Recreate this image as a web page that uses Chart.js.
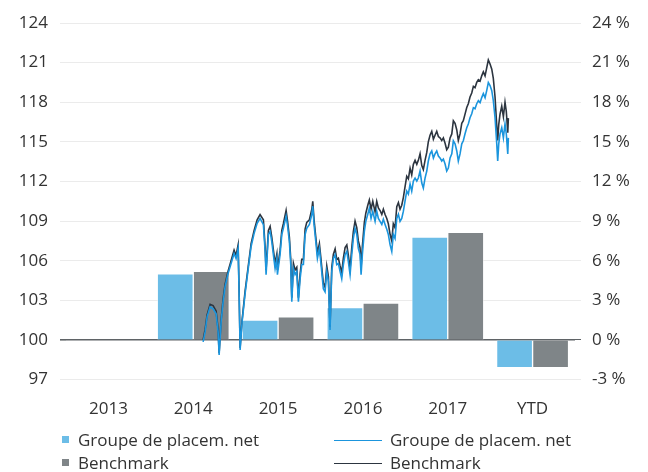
<!DOCTYPE html>
<html>
<head>
<meta charset="utf-8">
<script src="https://cdn.jsdelivr.net/npm/chart.js@4"></script>
<style>
  html, body { margin: 0; padding: 0; background: #fff; }
  #wrap { position: relative; width: 648px; height: 472px; }
  #legend { position: absolute; left: 0; top: 0; width: 648px; height: 472px; pointer-events: none;
            font-family: "Open Sans", sans-serif; font-size: 17px; color: #333; }
  .item { position: absolute; white-space: nowrap; line-height: 20px; }
  .swatch { position: absolute; }
</style>
</head>
<body>
<div id="wrap">
  <canvas id="chart" width="648" height="472"></canvas>
  <div id="legend"></div>
</div>
<script>
// Annual returns (%) as bars, daily index (start = 100) as lines.

const CATEGORIES = ["2013", "2014", "2015", "2016", "2017", "YTD"];
const GROUP_RETURNS = [null, 5.0, 1.5, 2.45, 7.8, -2.1];
const BENCH_RETURNS = [null, 5.2, 1.75, 2.8, 8.15, -2.1];

const LEFT_TICKS = { min: 97, max: 124, step: 3 };
const RIGHT_TICKS = { min: -3, max: 24, step: 3 };

// time axis in fractional years
const LINE_YEARS = [
  2014.605, 2014.628, 2014.651, 2014.686, 2014.721, 2014.756, 2014.779, 2014.791, 2014.814, 2014.837,
  2014.860, 2014.895, 2014.930, 2014.965, 2014.988, 2015.012, 2015.023, 2015.035, 2015.058, 2015.093,
  2015.128, 2015.163, 2015.198, 2015.233, 2015.267, 2015.306, 2015.326, 2015.337, 2015.364, 2015.384,
  2015.403, 2015.422, 2015.442, 2015.462, 2015.469, 2015.500, 2015.520, 2015.538, 2015.570, 2015.585,
  2015.608, 2015.624, 2015.636, 2015.655, 2015.674, 2015.694, 2015.713, 2015.733, 2015.752, 2015.771,
  2015.791, 2015.810, 2015.841, 2015.869, 2015.880, 2015.895, 2015.915, 2015.934, 2015.957, 2015.973,
  2015.992, 2016.003, 2016.023, 2016.043, 2016.062, 2016.081, 2016.101, 2016.120, 2016.140, 2016.159,
  2016.178, 2016.198, 2016.217, 2016.236, 2016.256, 2016.276, 2016.294, 2016.314, 2016.334, 2016.352,
  2016.372, 2016.392, 2016.410, 2016.430, 2016.442, 2016.457, 2016.480, 2016.497, 2016.520, 2016.538,
  2016.558, 2016.578, 2016.605, 2016.624, 2016.643, 2016.663, 2016.683, 2016.701, 2016.721, 2016.741,
  2016.759, 2016.779, 2016.799, 2016.817, 2016.837, 2016.857, 2016.876, 2016.895, 2016.915, 2016.934,
  2016.953, 2016.973, 2016.992, 2017.012, 2017.031, 2017.050, 2017.070, 2017.090, 2017.108, 2017.128,
  2017.148, 2017.166, 2017.186, 2017.206, 2017.224, 2017.244, 2017.264, 2017.283, 2017.302, 2017.322,
  2017.341, 2017.360, 2017.380, 2017.399, 2017.419, 2017.438, 2017.457, 2017.477, 2017.497, 2017.515,
  2017.535, 2017.555, 2017.573, 2017.593, 2017.613, 2017.631, 2017.651, 2017.671, 2017.690, 2017.709,
  2017.729, 2017.748, 2017.767, 2017.787, 2017.806, 2017.826, 2017.845, 2017.864, 2017.884, 2017.903,
  2017.922, 2017.942, 2017.962, 2017.980, 2018.000, 2018.020, 2018.031, 2018.043, 2018.058, 2018.078,
  2018.097, 2018.116, 2018.131, 2018.148, 2018.155,
];

const GROUP_LINE = [
  99.85, 100.61, 101.75, 102.51, 102.36, 101.98, 100.61, 98.86, 101.37, 102.89,
  104.04, 105.03, 105.79, 106.55, 106.17, 106.93, 103.65, 99.24, 101.37, 103.50,
  105.33, 107.08, 108.07, 108.83, 109.21, 108.73, 106.70, 104.95, 107.99, 108.22,
  107.46, 106.47, 105.41, 106.17, 104.95, 106.47, 107.99, 108.45, 109.37, 108.75,
  107.46, 105.71, 102.89, 105.41, 104.95, 105.18, 102.89, 104.64, 105.71, 105.71,
  107.99, 108.45, 108.75, 109.52, 110.13, 108.75, 107.46, 106.17, 106.93, 105.94,
  104.64, 103.88, 103.65, 105.18, 104.42, 100.76, 105.18, 106.17, 106.47, 105.71,
  105.79, 105.18, 104.64, 105.71, 106.47, 106.70, 105.94, 104.95, 106.47, 107.69,
  108.45, 107.99, 106.93, 106.47, 104.95, 106.47, 108.22, 108.98, 109.52, 109.97,
  109.21, 109.75, 108.98, 109.75, 109.21, 108.98, 108.75, 109.14, 108.75, 108.38,
  107.99, 107.23, 106.70, 107.99, 107.69, 109.21, 109.52, 108.98, 109.21, 109.75,
  110.51, 111.27, 111.04, 111.80, 111.27, 112.03, 112.26, 112.03, 112.26, 112.79,
  111.88, 111.50, 112.26, 112.79, 113.55, 114.09, 114.31, 113.78, 114.09, 114.31,
  113.93, 113.78, 113.55, 113.70, 113.32, 112.79, 113.02, 113.78, 114.09, 115.08,
  114.85, 114.31, 113.55, 114.09, 114.85, 115.08, 115.61, 116.07, 116.37, 116.83,
  117.13, 117.59, 117.51, 117.89, 118.12, 117.97, 118.35, 118.65, 118.35, 118.88,
  119.49, 119.26, 118.88, 118.12, 116.83, 114.85, 113.55, 114.85, 115.61, 116.07,
  115.30, 116.37, 115.61, 114.09, 115.30,
];

const BENCH_LINE = [
  100.0, 100.8, 101.9, 102.7, 102.6, 102.2, 100.8, 99.0, 101.5, 103.1,
  104.2, 105.2, 106.0, 106.8, 106.4, 107.2, 103.9, 99.4, 101.5, 103.7,
  105.5, 107.3, 108.3, 109.1, 109.5, 109.1, 107.0, 105.3, 108.3, 108.6,
  107.8, 106.8, 105.8, 106.5, 105.3, 106.8, 108.3, 108.8, 109.8, 109.1,
  107.8, 106.1, 103.2, 105.8, 105.3, 105.5, 103.2, 105.0, 106.1, 106.1,
  108.4, 108.9, 109.1, 109.9, 110.5, 109.1, 107.8, 106.6, 107.3, 106.3,
  105.0, 104.3, 104.0, 105.6, 104.8, 101.0, 105.5, 106.5, 106.9, 106.1,
  106.2, 105.6, 105.1, 106.2, 107.0, 107.2, 106.4, 105.4, 107.0, 108.2,
  109.0, 108.5, 107.5, 107.0, 105.5, 107.1, 108.9, 109.6, 110.2, 110.6,
  109.9, 110.5, 109.7, 110.5, 110.0, 109.8, 109.5, 109.9, 109.5, 109.2,
  108.8, 108.0, 107.5, 108.8, 108.5, 110.1, 110.4, 109.9, 110.2, 110.8,
  111.6, 112.4, 112.2, 113.0, 112.5, 113.3, 113.6, 113.3, 113.6, 114.1,
  113.2, 112.9, 113.6, 114.2, 115.0, 115.5, 115.8, 115.2, 115.5, 115.8,
  115.4, 115.3, 115.1, 115.3, 114.9, 114.4, 114.6, 115.3, 115.6, 116.6,
  116.4, 115.9, 115.1, 115.6, 116.4, 116.6, 117.1, 117.6, 117.9, 118.4,
  118.7, 119.2, 119.1, 119.5, 119.7, 119.6, 120.0, 120.3, 120.0, 120.6,
  121.2, 120.9, 120.5, 119.8, 118.4, 116.2, 115.1, 116.3, 117.1, 117.7,
  116.9, 118.0, 117.3, 115.7, 116.8,
];

const LABEL_GROUP = "Groupe de placem. net";
const LABEL_BENCH = "Benchmark";

const palette = {
  text: "#333333",
  grid: "#ebebeb",
  zero: "#5f6366",
  barGroup: "#6cbde7",
  barBench: "#7f8588",
  lineGroup: "#1b95dd",
  lineBench: "#2c3540",
};

const font = { family: "'Open Sans', sans-serif", size: 17 };

function toPoints(xs, ys) {
  return xs.map((x, i) => ({ x, y: ys[i] }));
}

function gridColor(ctx) {
  return ctx.tick && ctx.tick.value === 100 ? palette.zero : palette.grid;
}
function gridWidth(ctx) {
  return ctx.tick && ctx.tick.value === 100 ? 1.6 : 1;
}

const chart = new Chart(document.getElementById("chart"), {
  data: {
    labels: CATEGORIES,
    datasets: [
      { type: "line", label: LABEL_GROUP, data: toPoints(LINE_YEARS, GROUP_LINE), xAxisID: "xLine", yAxisID: "y",
        borderColor: palette.lineGroup, borderWidth: 1.6, pointRadius: 0, tension: 0, order: 0 },
      { type: "line", label: LABEL_BENCH, data: toPoints(LINE_YEARS, BENCH_LINE), xAxisID: "xLine", yAxisID: "y",
        borderColor: palette.lineBench, borderWidth: 1.6, pointRadius: 0, tension: 0, order: 0 },
      { type: "bar", label: LABEL_GROUP, data: GROUP_RETURNS, xAxisID: "x", yAxisID: "y2",
        backgroundColor: palette.barGroup, borderColor: "rgba(255,255,255,0.45)", borderWidth: 1,
        barThickness: 36, order: 1 },
      { type: "bar", label: LABEL_BENCH, data: BENCH_RETURNS, xAxisID: "x", yAxisID: "y2",
        backgroundColor: palette.barBench, borderColor: "rgba(255,255,255,0.45)", borderWidth: 1,
        barThickness: 36, order: 1 },
    ],
  },
  options: {
    animation: false,
    responsive: false,
    events: [],
    layout: { padding: { top: 23, left: 0, right: 0, bottom: 42 } },
    scales: {
      x: {
        type: "category",
        grid: { display: false },
        border: { display: false },
        ticks: { color: palette.text, font, padding: 11 },
      },
      xLine: { type: "linear", display: false, min: 2013.01, max: 2018.93 },
      y: {
        position: "left",
        min: LEFT_TICKS.min,
        max: LEFT_TICKS.max,
        border: { display: false },
        grid: { color: gridColor, lineWidth: gridWidth, tickLength: 6 },
        ticks: { stepSize: LEFT_TICKS.step, color: palette.text, font, padding: 12 },
        afterFit: (s) => { s.width = 66; },
      },
      y2: {
        position: "right",
        min: RIGHT_TICKS.min,
        max: RIGHT_TICKS.max,
        border: { display: false },
        grid: { drawOnChartArea: false, color: (c) => (c.tick && c.tick.value === 0 ? palette.zero : palette.grid), tickLength: 6 },
        ticks: { stepSize: RIGHT_TICKS.step, color: palette.text, font, padding: 11, callback: (v) => `${v} %` },
        afterFit: (s) => { s.width = 73; },
      },
    },
    plugins: { legend: { display: false }, tooltip: { enabled: false } },
  },
});

// two-column legend below the plot, built from the datasets
function buildLegend() {
  const box = document.getElementById("legend");
  const rows = [440, 463];
  const bars = chart.data.datasets.filter((d) => d.type === "bar");
  const lines = chart.data.datasets.filter((d) => d.type === "line");
  bars.forEach((d, i) => {
    const sw = document.createElement("div");
    sw.className = "swatch";
    sw.style.cssText = `left:62px;top:${rows[i] - 4}px;width:7px;height:7px;background:${d.backgroundColor}`;
    box.appendChild(sw);
    const t = document.createElement("div");
    t.className = "item";
    t.style.cssText = `left:78px;top:${rows[i] - 10}px`;
    t.textContent = d.label;
    box.appendChild(t);
  });
  lines.forEach((d, i) => {
    const sw = document.createElement("div");
    sw.className = "swatch";
    sw.style.cssText = `left:334px;top:${rows[i]}px;width:48px;height:1px;background:${d.borderColor}`;
    box.appendChild(sw);
    const t = document.createElement("div");
    t.className = "item";
    t.style.cssText = `left:390px;top:${rows[i] - 10}px`;
    t.textContent = d.label;
    box.appendChild(t);
  });
}
buildLegend();
</script>
</body>
</html>
